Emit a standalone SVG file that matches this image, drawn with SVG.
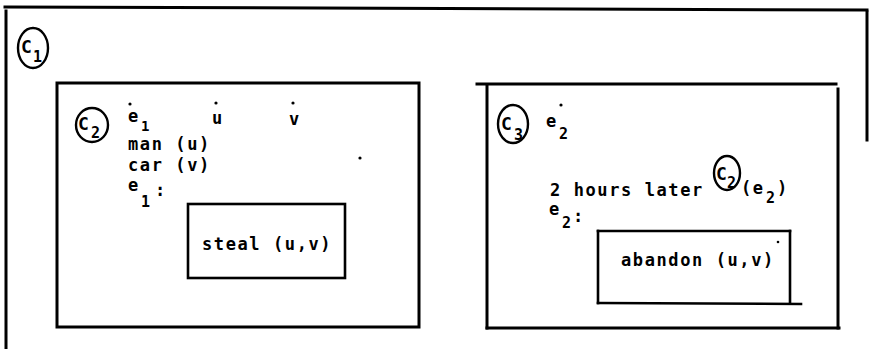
<svg xmlns="http://www.w3.org/2000/svg" width="869" height="349" viewBox="0 0 869 349">
<style>
.ln{stroke:#000;stroke-width:3;fill:none;stroke-linecap:square}
.ln2{stroke:#000;stroke-width:2.6;fill:none;stroke-linecap:square}
.ell{stroke:#000;stroke-width:2.4;fill:none}
.t{font-family:"DejaVu Sans Mono","Liberation Mono",monospace;font-weight:bold;font-size:17px;letter-spacing:1.6px;fill:#000}
.s{font-family:"DejaVu Sans Mono","Liberation Mono",monospace;font-weight:bold;font-size:15px;fill:#000}
.s2{font-family:"DejaVu Sans Mono","Liberation Mono",monospace;font-weight:bold;font-size:14px;fill:#000}
.c{font-family:"DejaVu Sans Mono","Liberation Mono",monospace;font-weight:bold;font-size:18px;fill:#000}
.cs{font-family:"DejaVu Sans Mono","Liberation Mono",monospace;font-weight:bold;font-size:15px;fill:#000}
.dot{fill:#000}
</style>
<rect width="869" height="349" fill="#fff"/>
<g id="c1">
  <line class="ln" x1="5" y1="7" x2="867" y2="10"/>
  <line class="ln" x1="6" y1="11" x2="6" y2="349"/>
  <line class="ln" x1="867" y1="12" x2="867" y2="140"/>
  <ellipse class="ell" cx="33" cy="48" rx="15" ry="20"/>
  <text class="c" x="21" y="53">C</text>
  <text class="cs" x="33" y="62">1</text>
</g>
<g id="c2">
  <rect class="ln" x="57" y="83" width="362" height="244"/>
  <ellipse class="ell" cx="92" cy="125" rx="16" ry="17"/>
  <text class="c" x="78" y="130">C</text>
  <text class="cs" x="91" y="138">2</text>
  <circle class="dot" cx="130" cy="104" r="1.6"/>
  <circle class="dot" cx="216" cy="103" r="1.6"/>
  <circle class="dot" cx="293" cy="103" r="1.6"/>
  <text class="t" x="128" y="122">e</text>
  <text class="s2" x="141" y="131">1</text>
  <text class="t" x="212" y="124">u</text>
  <text class="t" x="289" y="125">v</text>
  <text class="t" x="128" y="150">man (u)</text>
  <text class="t" x="128" y="171">car (v)</text>
  <text class="t" x="128" y="191">e</text>
  <text class="s" x="141" y="207">1</text>
  <text class="t" x="155" y="196">:</text>
  <circle class="dot" cx="360" cy="158" r="1.6"/>
</g>
<g id="steal">
  <rect class="ln2" x="188" y="204" width="157" height="74"/>
  <text class="t" x="202" y="250">steal (u,v)</text>
</g>
<g id="c3">
  <line class="ln" x1="477" y1="84" x2="836" y2="84"/>
  <line class="ln" x1="487" y1="86" x2="487" y2="328"/>
  <line class="ln" x1="838" y1="89" x2="838" y2="328"/>
  <line class="ln" x1="487" y1="328" x2="839" y2="328"/>
  <ellipse class="ell" cx="513" cy="124" rx="15" ry="19"/>
  <text class="c" x="501" y="130">C</text>
  <text class="cs" x="514" y="140">3</text>
  <circle class="dot" cx="561" cy="105" r="1.6"/>
  <text class="t" x="546" y="127">e</text>
  <text class="s" x="559" y="139">2</text>
  <text class="t" x="550" y="196">2 hours later</text>
  <ellipse class="ell" cx="727" cy="173" rx="13" ry="17"/>
  <text class="c" x="716" y="180">C</text>
  <text class="cs" x="727" y="188">2</text>
  <text class="t" x="741" y="194">(e</text>
  <text class="s" x="766" y="203">2</text>
  <text class="t" x="777" y="194">)</text>
  <text class="t" x="549" y="215">e</text>
  <text class="s" x="562" y="228">2</text>
  <text class="t" x="573" y="222">:</text>
</g>
<g id="abandon">
  <line class="ln2" x1="598" y1="231" x2="790" y2="231"/>
  <line class="ln2" x1="598" y1="231" x2="598" y2="303"/>
  <line class="ln2" x1="790" y1="231" x2="790" y2="303"/>
  <line class="ln2" x1="598" y1="303" x2="801" y2="304"/>
  <text class="t" x="621" y="266">abandon (u,v)</text>
  <circle class="dot" cx="778" cy="242" r="1.3"/>
</g>
<g id="connectors"></g>
</svg>
